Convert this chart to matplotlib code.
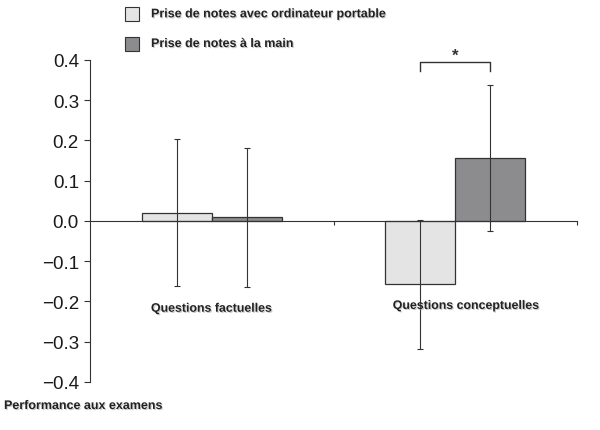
import matplotlib
matplotlib.use("Agg")
import matplotlib.pyplot as plt
import matplotlib.patheffects as pe
import numpy as np

categories = ["Questions factuelles", "Questions conceptuelles"]
series_names = ["Prise de notes avec ordinateur portable", "Prise de notes à la main"]
laptop = [0.021, -0.157]
laptop_err = [0.182, 0.160]
hand = [0.009, 0.156]
hand_err = [0.172, 0.181]
yticks = [0.4, 0.3, 0.2, 0.1, 0.0, -0.1, -0.2, -0.3, -0.4]
ylabel = "Performance aux examens"

fonts = ["Liberation Sans", "DejaVu Sans"]
shadow = [pe.withSimplePatchShadow(offset=(0.8, -0.8), shadow_rgbFace="#999999", alpha=0.5)]

fig = plt.figure(figsize=(6, 4.31), dpi=100)
ax = fig.add_axes([0.15, 0.1114, 0.8117, 0.7471])

x = np.arange(len(categories)) + 0.5
w = 0.287
ekw = dict(ecolor="#333333", elinewidth=0.8, capsize=2, capthick=0.8)
ax.bar(x - w / 2, laptop, w, yerr=laptop_err, color="#e4e4e4",
       edgecolor="#333333", linewidth=0.9, error_kw=ekw, label=series_names[0])
ax.bar(x + w / 2, hand, w, yerr=hand_err, color="#8c8c8f",
       edgecolor="#333333", linewidth=0.9, error_kw=ekw, label=series_names[1])

ax.set_xlim(0, 2)
ax.set_ylim(-0.4, 0.4)
ax.spines["top"].set_visible(False)
ax.spines["right"].set_visible(False)
ax.spines["bottom"].set_position(("data", 0))
for s in ("left", "bottom"):
    ax.spines[s].set_color("#333333")
    ax.spines[s].set_linewidth(0.8)

ax.set_yticks(yticks)
ax.set_yticklabels([f"{v:.1f}".replace("-", "\u2212") if v != 0 else "0.0" for v in yticks],
                   family=fonts, fontsize=13.5, color="#1a1a1a")
ax.tick_params(axis="y", direction="out", length=4, width=0.8, color="#333333", pad=4)
ax.set_xticks([1, 2])
ax.set_xticklabels([])
ax.tick_params(axis="x", direction="out", length=3, width=0.8, color="#333333")

# category labels
ax.text(x[0], -0.218, categories[0], ha="center", va="center", fontsize=8.9,
        fontweight="bold", family=fonts, color="#222222", path_effects=shadow)
ax.text(x[1] + 0.045, -0.211, categories[1], ha="center", va="center", fontsize=8.9,
        fontweight="bold", family=fonts, color="#222222", path_effects=shadow)

# significance bracket
bx0, bx1 = x[1] - w / 2, x[1] + w / 2
ax.plot([bx0, bx0, bx1, bx1], [0.373, 0.394, 0.394, 0.373], color="#333333",
        lw=1.0, clip_on=False)
ax.text(x[1], 0.412, "*", ha="center", va="center", fontsize=12, fontweight="bold",
        family=fonts, color="#333333", clip_on=False)

# legend drawn by hand
cols = ["#e4e4e4", "#8c8c8f"]
for i, (name, c) in enumerate(zip(series_names, cols)):
    ypx = 15.3 + i * 29.7
    yf = 1 - ypx / 431
    fig.patches.append(plt.Rectangle((125 / 600, yf - 7 / 431), 14 / 600, 14 / 431,
                                     transform=fig.transFigure, facecolor=c,
                                     edgecolor="#333333", linewidth=0.8))
    fig.text(151 / 600, yf, name, ha="left", va="center", fontsize=9,
             fontweight="bold", family=fonts, color="#222222", path_effects=shadow)

fig.text(4 / 600, 1 - 407 / 431, ylabel, ha="left", va="center", fontsize=9,
         fontweight="bold", family=fonts, color="#222222", path_effects=shadow)

fig.savefig("out.png", dpi=100)
